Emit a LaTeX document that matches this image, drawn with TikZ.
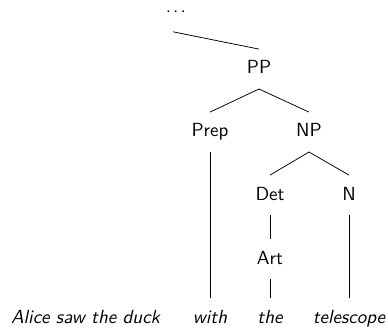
\documentclass[tikz,border=0pt]{standalone}
\usepackage{tikz}

\begin{document}
\begin{tikzpicture}[x=0.5263pt, y=-0.5263pt,
    cat/.style={font=\sffamily, anchor=base, inner xsep=0pt, inner ysep=5.5pt,
                text height=7.4pt, text depth=2.2pt},
    word/.style={cat, font=\sffamily\itshape}]
    \useasboundingbox (0,0) rectangle (388,328);
    \node[cat, text height=1pt, inner ysep=4pt, text depth=5.7pt] (dots) at (173,13) {\kern3pt.\kern1.1pt.\kern1.1pt.};
    \node[cat] (pp) at (259,74) {PP};
    \node[cat] (prep) at (210,137) {Prep};
    \node[cat] (np) at (309,137) {NP};
    \node[cat] (det) at (270,200) {Det};
    \node[cat] (n) at (349,200) {N};
    \node[cat] (art) at (270,264) {Art};
    \node[word] (alice) at (85.5,323) {Alice saw the duck};
    \node[word] (with) at (210,323) {with};
    \node[word] (the) at (270,323) {the};
    \node[word] (telescope) at (349,323) {telescope};
    \draw (dots.south) -- (pp.north);
    \draw (pp.south) -- (prep.north);
    \draw (pp.south) -- (np.north);
    \draw (prep.south) -- (with.north);
    \draw (np.south) -- (det.north);
    \draw (np.south) -- (n.north);
    \draw (det.south) -- (art.north);
    \draw (art.south) -- (the.north);
    \draw (n.south) -- (telescope.north);
  \end{tikzpicture}
\end{document}
